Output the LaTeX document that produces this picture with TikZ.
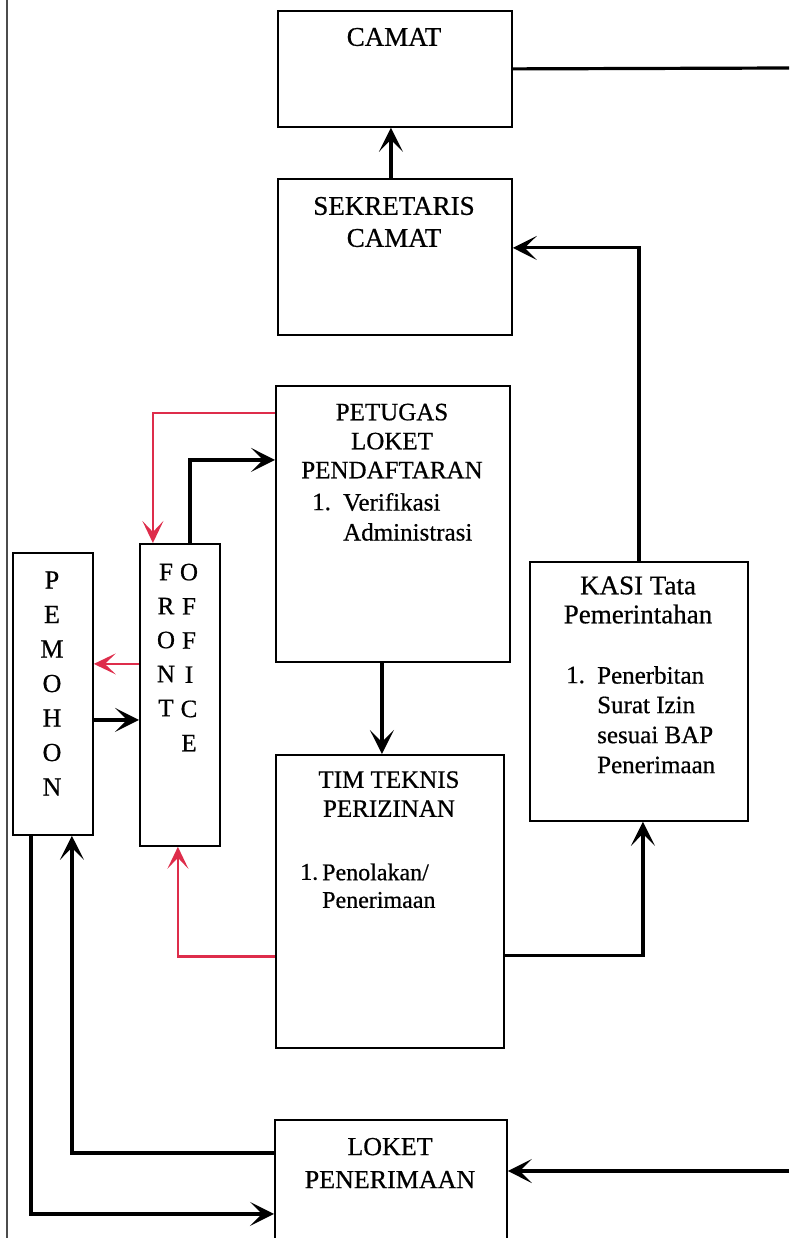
\documentclass[tikz,border=0pt]{standalone}
\usepackage{fontspec}
\setmainfont{Liberation Serif}[FakeBold=0.6]
\usetikzlibrary{arrows.meta}
\definecolor{redline}{RGB}{222,45,75}
\begin{document}
\begin{tikzpicture}[x=1pt,y=-1pt,
  box/.style={draw=black, line width=1.8pt, inner sep=0pt, anchor=north west},
  plain/.style={draw=black, line width=3.2pt},
  conn/.style={plain, -{Stealth[length=24pt,width=24pt,inset=12pt]}},
  rconn/.style={draw=redline, line width=2.6pt, -{Stealth[length=22pt,width=21pt,inset=11pt]}},
  txt/.style={font=\fontsize{25}{29}\selectfont, align=center, inner sep=0pt},
  bigtxt/.style={font=\fontsize{27}{32}\selectfont, align=center, inner sep=0pt},
  itm/.style={font=\fontsize{25}{29}\selectfont, inner sep=0pt, anchor=west},
  vert/.style={font=\fontsize{26}{34.5}\selectfont, align=center, inner sep=0pt},
]
\useasboundingbox (0,0) rectangle (789,1238);

% page border line
\coordinate (b1) at (7,0);
\coordinate (b2) at (7,1238);
\draw[line width=1.2pt, black!70] (b1) -- (b2);

% boxes
\node[box, minimum width=234pt, minimum height=116pt] (camat) at (277,10) {};
\node[box, minimum width=234pt, minimum height=156pt] (sek) at (277,178) {};
\node[box, minimum width=234pt, minimum height=276pt] (pet) at (275,385) {};
\node[box, minimum width=80pt, minimum height=282pt] (pem) at (12,552) {};
\node[box, minimum width=80pt, minimum height=302pt] (front) at (139,543) {};
\node[box, minimum width=228pt, minimum height=293pt] (tim) at (275,754) {};
\node[box, minimum width=218pt, minimum height=259pt] (kasi) at (529,561) {};
\node[box, minimum width=232pt, minimum height=150pt] (loket) at (274,1119) {};

% texts
\node[bigtxt] (tcamat) at (394,37) {CAMAT};
\node[bigtxt] (tsek) at (394,222) {SEKRETARIS\\CAMAT};
\node[txt] (tpet) at (392,441) {PETUGAS\\LOKET\\PENDAFTARAN};
\node[itm] (pn1) at (312,502) {1.};
\node[itm] (pv1) at (343,502) {Verifikasi};
\node[itm] (pv2) at (343,532) {Administrasi};

\node[txt] (ttim) at (389,794) {TIM TEKNIS\\PERIZINAN};
\node[itm, font=\fontsize{24}{28}\selectfont] (tn1) at (300,872) {1.};
\node[itm, font=\fontsize{24}{28}\selectfont] (tv1) at (322,872) {Penolakan/};
\node[itm, font=\fontsize{24}{28}\selectfont] (tv2) at (322,900) {Penerimaan};

\node[bigtxt, font=\fontsize{27}{29}\selectfont] (tkasi) at (638,600) {KASI Tata\\Pemerintahan};
\node[itm] (kn1) at (566,675) {1.};
\node[itm] (kv1) at (597,675) {Penerbitan};
\node[itm] (kv2) at (597,705) {Surat Izin};
\node[itm] (kv3) at (597,735) {sesuai BAP};
\node[itm] (kv4) at (597,765) {Penerimaan};

\node[txt, font=\fontsize{26}{33}\selectfont] (tloket) at (390,1163) {LOKET\\PENERIMAAN};

\node[vert] (tpem) at (52,683.5) {P\\E\\M\\O\\H\\O\\N};
\node[vert, font=\fontsize{25}{34}\selectfont] (tfront) at (166,640) {F\\R\\O\\N\\T};
\node[vert, font=\fontsize{25}{34.2}\selectfont] (toffice) at (189,657.5) {O\\F\\F\\I\\C\\E};

% connectors
\coordinate (r1) at (789,68);
\coordinate (r2) at (789,1171);
\draw[plain] (camat.east) -- (r1);
\draw[conn] ([xshift=-4pt]sek.north) -- ([xshift=-4pt]camat.south);
\draw[conn] (kasi.north) |- ([yshift=9pt]sek.east);
\draw[rconn] ([yshift=111pt]pet.west) -| ([xshift=-27pt]front.north);
\draw[conn] ([xshift=10pt]front.north) |- ([yshift=64pt]pet.west);
\draw[conn] ([xshift=-11pt]pet.south) -- ([xshift=-11pt]pet.south |- tim.north);
\draw[rconn] ([yshift=31pt]front.west) -- ([yshift=31pt]front.west -| pem.east);
\draw[conn] ([yshift=-26pt]pem.east) -- ([yshift=-26pt]pem.east -| front.west);
\draw[rconn] ([yshift=-55pt]tim.west) -| ([xshift=-2pt]front.south);
\draw[conn] ([yshift=-54pt]tim.east) -| ([xshift=4pt]kasi.south);
\draw[conn] ([yshift=42pt]loket.west) -| ([xshift=19pt]pem.south);
\draw[conn] ([xshift=-22pt]pem.south) |- ([yshift=-19pt]loket.west);
\draw[conn] (r2) -- (r2 -| loket.east);
\end{tikzpicture}
\end{document}
